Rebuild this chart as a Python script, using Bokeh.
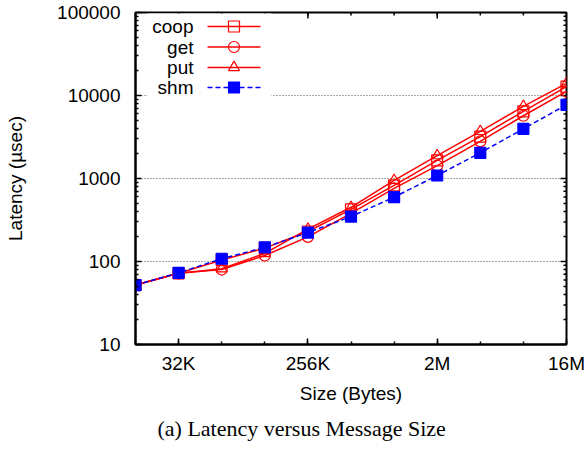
import math

from bokeh.plotting import figure
from bokeh.models import FixedTicker, Title
from bokeh.core.properties import value
from bokeh.embed import file_html
from bokeh.resources import INLINE

# Message sizes (bytes) and measured latencies (usec)
sizes = [16384, 32768, 65536, 131072, 262144, 524288,
         1048576, 2097152, 4194304, 8388608, 16777216]
coop = [52, 72, 104, 145, 230, 425, 825, 1650, 3200, 6450, 12800]
get = [52, 72, 80, 118, 198, 380, 760, 1430, 2800, 5700, 11200]
put = [52, 72, 82, 125, 246, 450, 950, 1890, 3700, 7400, 14000]
shm = [52, 73, 108, 148, 223, 348, 596, 1087, 2040, 3970, 7730]

series_names = ["coop", "get", "put", "shm"]

x_ticks = [32768, 262144, 2097152, 16777216]
x_tick_labels = ["32K", "256K", "2M", "16M"]
x_minor = sizes
y_ticks = [10, 100, 1000, 10000, 100000]
y_tick_labels = ["10", "100", "1000", "10000", "100000"]
y_minor = [k * d for d in [10, 100, 1000, 10000] for k in range(2, 10)]

W, H = 587, 449
FL, FR, FT, FB = 135, 566, 12, 344
X_LO, X_HI = 16384, 16777216
Y_LO, Y_HI = 10, 100000
MAJOR_LEN, MINOR_LEN = 6, 3

FONT = "Liberation Sans"
FS = "19px"
RED = "#ff0000"
BLUE = "#0000ff"

p = figure(width=W, height=H, x_axis_type="log", y_axis_type="log",
           x_range=(X_LO, X_HI), y_range=(Y_LO, Y_HI),
           output_backend="svg", toolbar_location=None,
           min_border_left=FL, min_border_right=W - FR,
           min_border_top=FT, min_border_bottom=H - FB)
p.outline_line_color = "black"
p.outline_line_width = 2
p.background_fill_color = "white"
p.border_fill_color = "white"

xt = FixedTicker(ticks=x_ticks, minor_ticks=x_minor)
yt = FixedTicker(ticks=y_ticks, minor_ticks=y_minor)


def style_axis(ax, ticker, labels):
    ax.ticker = ticker
    ax.axis_line_width = 2
    ax.axis_line_color = "black"
    ax.major_tick_in = MAJOR_LEN
    ax.major_tick_out = 0
    ax.minor_tick_in = MINOR_LEN
    ax.minor_tick_out = 0
    ax.major_tick_line_width = 1.5
    ax.minor_tick_line_width = 1.5
    ax.major_label_text_font = FONT
    ax.major_label_text_font_size = FS
    ax.major_label_text_color = "black"
    ax.axis_label_text_font = FONT
    ax.axis_label_text_font_size = FS
    ax.axis_label_text_font_style = "normal"
    ax.axis_label_text_color = "black"
    ax.major_label_overrides = labels


style_axis(p.xaxis[0], xt, dict(zip(x_ticks, x_tick_labels)))
style_axis(p.yaxis[0], yt, dict(zip(y_ticks, y_tick_labels)))
p.xaxis[0].axis_label = "Size (Bytes)"
p.xaxis[0].major_label_standoff = 8
p.xaxis[0].axis_label_standoff = 6
p.yaxis[0].axis_label = "Latency (\u00b5sec)"
p.yaxis[0].major_label_standoff = 15
p.yaxis[0].axis_label_standoff = 28

p.xgrid.visible = False
p.ygrid.ticker = yt
p.ygrid.grid_line_color = "#555555"
p.ygrid.grid_line_dash = "1 2"
p.ygrid.grid_line_width = 1


# frame pixel -> data coordinate, used for the key and mirrored ticks
def fx(px):
    lo, hi = math.log2(X_LO), math.log2(X_HI)
    return 2 ** (lo + (px - FL) / (FR - FL) * (hi - lo))


def fy(py):
    lo, hi = math.log10(Y_LO), math.log10(Y_HI)
    return 10 ** (lo + (FB - py) / (FB - FT) * (hi - lo))


# mirrored ticks along the top and right edges
for ticks, n in ((x_ticks, MAJOR_LEN), (x_minor, MINOR_LEN)):
    p.segment(x0=ticks, y0=[Y_HI] * len(ticks), x1=ticks,
              y1=[fy(FT + n)] * len(ticks), line_color="black", line_width=1.5)
for ticks, n in ((y_ticks, MAJOR_LEN), (y_minor, MINOR_LEN)):
    p.segment(x0=[X_HI] * len(ticks), y0=ticks, x1=[fx(FR - n)] * len(ticks),
              y1=ticks, line_color="black", line_width=1.5)

# white key background
p.quad(left=[fx(147)], right=[fx(271)], top=[fy(FT + 1)], bottom=[fy(99)],
       fill_color="white", line_color=None)

styles = {
    "coop": dict(marker="square", color=RED, fill=None, dash="solid"),
    "get": dict(marker="circle", color=RED, fill=None, dash="solid"),
    "put": dict(marker="triangle", color=RED, fill=None, dash="solid"),
    "shm": dict(marker="square", color=BLUE, fill=BLUE, dash="5 3"),
}
data = {"coop": coop, "get": get, "put": put, "shm": shm}

for name in series_names:
    st = styles[name]
    p.line(sizes, data[name], line_color=st["color"], line_width=1.5,
           line_dash=st["dash"])
    p.scatter(sizes, data[name], marker=st["marker"], size=11,
              line_color=st["color"], line_width=1.2,
              fill_color=st["fill"], fill_alpha=1.0 if st["fill"] else 0)

# key
key_rows = [26, 46.5, 67, 87]
for name, ry in zip(series_names, key_rows):
    st = styles[name]
    p.text(x=[fx(193)], y=[fy(ry)], text=[name], text_align="right",
           text_baseline="middle", text_font=value(FONT),
           text_font_size=FS, text_color="black")
    p.line([fx(207), fx(260)], [fy(ry), fy(ry)], line_color=st["color"],
           line_width=1.5, line_dash=st["dash"])
    p.scatter([fx(233.5)], [fy(ry)], marker=st["marker"], size=11,
              line_color=st["color"], line_width=1.2,
              fill_color=st["fill"], fill_alpha=1.0 if st["fill"] else 0)

cap = Title(text="(a) Latency versus Message Size", align="left",
            offset=22, standoff=15, text_font="Liberation Serif",
            text_font_size="22px", text_font_style="normal",
            text_color="black")
p.add_layout(cap, "below")

open("out.html", "w").write(file_html(p, INLINE))
